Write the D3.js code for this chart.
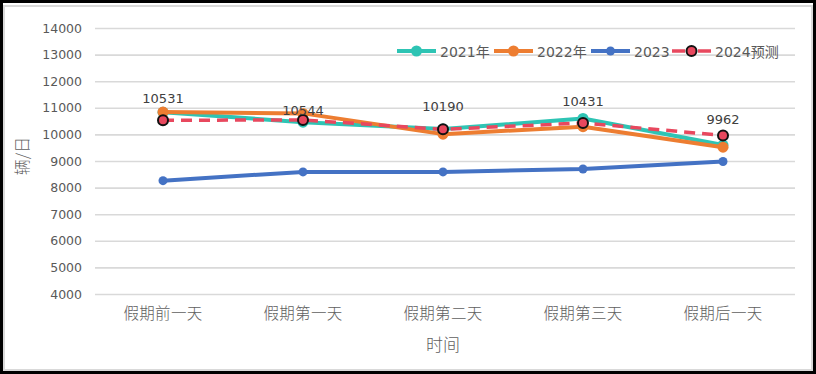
<!DOCTYPE html>
<html><head><meta charset="utf-8">
<script src="https://cdn.jsdelivr.net/npm/d3@7/dist/d3.min.js"></script>
<style>body{margin:0;background:#fff}svg{display:block}</style>
</head><body>
<svg id="c" width="816" height="374"></svg>
<script>
const categories = ["假期前一天","假期第一天","假期第二天","假期第三天","假期后一天"];
const s2021 = [10830, 10460, 10200, 10600, 9600];
const s2022 = [10840, 10790, 10010, 10290, 9520];
const s2023 = [8260, 8590, 8590, 8700, 8980];
const s2024 = [10531, 10544, 10190, 10431, 9962];
const yTicks = [4000,5000,6000,7000,8000,9000,10000,11000,12000,13000,14000];
const seriesNames = ["2021年","2022年","2023","2024预测"];
const colors = ["#2ec4b4","#ed7d31","#4472c4","#e8485e"];

const svg = d3.select("#c");
const FONT = "'DejaVu Sans','Noto Sans CJK SC',sans-serif";
const CJK = "'Noto Sans CJK SC',sans-serif";

// frame
svg.append("rect").attr("x",1.5).attr("y",1.5).attr("width",813).attr("height",371)
  .attr("fill","none").attr("stroke","#000").attr("stroke-width",3);
svg.append("rect").attr("x",4).attr("y",6).attr("width",808).attr("height",364)
  .attr("fill","#fff").attr("stroke","#d9d9d9").attr("stroke-width",2);

const x = d3.scaleBand().domain(categories).range([93,793]);
const y = d3.scaleLinear().domain([4000,14000]).range([294,28]);
const cx = d => x(d) + x.bandwidth()/2;

// gridlines
const grid = svg.append("g").attr("transform","translate(95,0)")
  .call(d3.axisLeft(y).tickValues(yTicks).tickSize(-700).tickFormat(""));
grid.select(".domain").remove();
grid.selectAll("line").attr("stroke","#d9d9d9").attr("stroke-width",1.6);

// y tick labels
const yAx = svg.append("g").attr("transform","translate(82,0)")
  .call(d3.axisLeft(y).tickValues(yTicks).tickSize(0).tickPadding(0).tickFormat(d3.format("d")));
yAx.select(".domain").remove();
yAx.selectAll("text").attr("font-family",FONT).attr("font-size",12.5).attr("fill","#595959");

// x labels
const xAx = svg.append("g").attr("transform","translate(0,302)")
  .call(d3.axisBottom(x).tickSize(0).tickPadding(6));
xAx.select(".domain").remove();
xAx.selectAll("text").attr("font-family",CJK).attr("font-size",15.5).attr("fill","#606060")
  .attr("font-weight",300).attr("letter-spacing",0.3);

// axis titles
svg.append("text").attr("x",443).attr("y",351).attr("text-anchor","middle")
  .attr("font-family",CJK).attr("font-size",17).attr("font-weight",300).attr("fill","#606060").text("时间");
svg.append("text").attr("transform","translate(28,156) rotate(-90)").attr("text-anchor","middle")
  .attr("font-family",CJK).attr("font-size",16).attr("font-weight",300).attr("fill","#606060").text("辆/日");

const line = d3.line().x((d,i)=>cx(categories[i])).y(d=>y(d));

function solid(data,color,r){
  svg.append("path").datum(data).attr("d",line).attr("fill","none")
    .attr("stroke",color).attr("stroke-width",4).attr("stroke-linejoin","round");
  svg.append("g").selectAll("circle").data(data).join("circle")
    .attr("cx",(d,i)=>cx(categories[i])).attr("cy",d=>y(d)).attr("r",r).attr("fill",color);
}
solid(s2021,colors[0],5.5);
solid(s2022,colors[1],5.5);
solid(s2023,colors[2],4.5);

svg.append("path").datum(s2024).attr("d",line).attr("fill","none")
  .attr("stroke",colors[3]).attr("stroke-width",3.5).attr("stroke-dasharray","11,7");
svg.append("g").selectAll("circle").data(s2024).join("circle")
  .attr("cx",(d,i)=>cx(categories[i])).attr("cy",d=>y(d)).attr("r",5)
  .attr("fill",colors[3]).attr("stroke","#111").attr("stroke-width",2);

// data labels
const labelDy = [-17, -5, -18, -17, -11];
svg.append("g").selectAll("text").data(s2024).join("text")
  .attr("x",(d,i)=>cx(categories[i])).attr("y",(d,i)=>y(d)+labelDy[i])
  .attr("text-anchor","middle").attr("font-family",FONT).attr("font-size",13)
  .attr("fill","#404040").text(d=>d);

// legend
const legX = [397,494,591,672];
const lg = svg.append("g");
seriesNames.forEach((n,i)=>{
  const g = lg.append("g").attr("transform",`translate(${legX[i]},51)`);
  if(i<3){
    g.append("line").attr("x1",0).attr("x2",39).attr("stroke",colors[i]).attr("stroke-width",4);
    g.append("circle").attr("cx",19.5).attr("r",i===2?4.5:5.5).attr("fill",colors[i]);
  } else {
    g.append("line").attr("x1",0).attr("x2",39).attr("stroke",colors[i]).attr("stroke-width",3.5)
      .attr("stroke-dasharray","13,13");
    g.append("circle").attr("cx",19.5).attr("r",5).attr("fill",colors[i]).attr("stroke","#111").attr("stroke-width",2);
  }
  g.append("text").attr("x",43).attr("y",5.5).attr("font-family",FONT).attr("font-size",14)
    .attr("fill","#595959").text(n);
});
</script>
</body></html>
